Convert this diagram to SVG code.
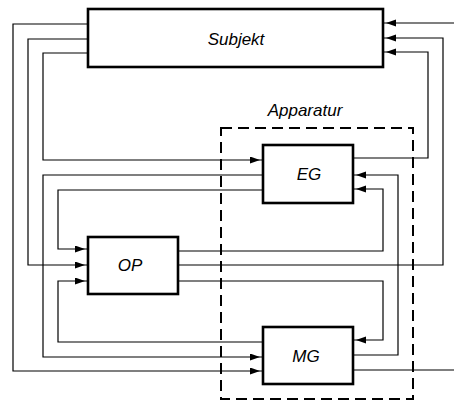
<svg xmlns="http://www.w3.org/2000/svg" width="454" height="405" viewBox="0 0 454 405">
<style>
.box{fill:#fff;stroke:#000;stroke-width:2.6}
.dash{fill:none;stroke:#000;stroke-width:2;stroke-dasharray:11 6}
.c{fill:none;stroke:#000;stroke-width:1.2}
.a{marker-end:url(#ah)}
.t{font-family:"Liberation Sans",Arial,sans-serif;font-style:italic;font-size:17px;fill:#000;text-anchor:middle}
</style>
<defs>
<marker id="ah" markerUnits="userSpaceOnUse" markerWidth="14" markerHeight="8" refX="13" refY="3.5" orient="auto">
<path d="M0,0 L10,3.5 L0,7 z" fill="#000"/>
</marker>
</defs>
<rect width="454" height="405" fill="#fff"/>
<g id="apparatur">
<rect class="dash" x="221" y="128" width="192" height="271"/>
<text class="t" x="305" y="116">Apparatur</text>
</g>
<g id="connectors">
<path class="c a" d="M88,24 H13 V371 H263"/>
<path class="c a" d="M88,39 H28 V265 H88"/>
<path class="c a" d="M88,53 H43 V160 H263"/>
<path class="c a" d="M263,175 H43 V357 H263"/>
<path class="c a" d="M263,190 H58 V249 H88"/>
<path class="c a" d="M263,342 H58 V281 H88"/>
<path class="c a" d="M178,251 H383 V189 H353"/>
<path class="c a" d="M178,265 H443 V38 H383"/>
<path class="c a" d="M178,281 H383 V340 H353"/>
<path class="c a" d="M353,355 H398 V175 H353"/>
<path class="c a" d="M353,158 H428 V52 H383"/>
<path class="c" d="M353,370 H454"/>
<path class="c a" d="M454,23 H383"/>
</g>
<g id="subjekt">
<rect class="box" x="88" y="9" width="295" height="58"/>
<text class="t" x="236" y="45">Subjekt</text>
</g>
<g id="eg">
<rect class="box" x="263" y="145" width="90" height="58"/>
<text class="t" x="309" y="180">EG</text>
</g>
<g id="op">
<rect class="box" x="88" y="237" width="90" height="57"/>
<text class="t" x="130" y="271">OP</text>
</g>
<g id="mg">
<rect class="box" x="263" y="327" width="90" height="57"/>
<text class="t" x="306" y="362">MG</text>
</g>
</svg>
